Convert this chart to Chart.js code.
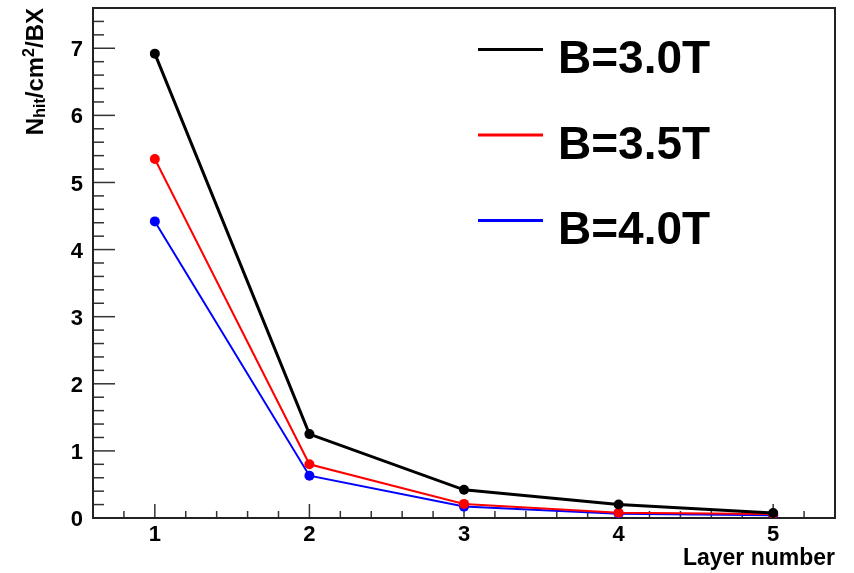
<!DOCTYPE html>
<html>
<head>
<meta charset="utf-8">
<script src="https://cdn.jsdelivr.net/npm/chart.js@4.4.0/dist/chart.umd.min.js"></script>
<style>
html, body { margin: 0; padding: 0; background: #fff; }
#wrap { width: 854px; height: 573px; }
</style>
</head>
<body>
<div id="wrap"><canvas id="grafica" width="854" height="573"></canvas></div>
<script>
// --- DATOS ---
const capas = [1, 2, 3, 4, 5];
const nombresSeries = ['B=3.0T', 'B=3.5T', 'B=4.0T'];
const hitsB30 = [6.92, 1.25, 0.42, 0.20, 0.075];
const hitsB35 = [5.35, 0.80, 0.21, 0.08, 0.06];
const hitsB40 = [4.42, 0.63, 0.17, 0.065, 0.04];
const etiquetasX = [1, 2, 3, 4, 5];
const etiquetasY = [0, 1, 2, 3, 4, 5, 6, 7];

const FUENTE = '"Liberation Sans", Arial, Helvetica, sans-serif';

function puntos(valores) {
    return capas.map((c, i) => ({ x: c, y: valores[i] }));
}

function esEtiqueta(lista, v) {
    return lista.some(t => Math.abs(t - v) < 1e-6);
}

// ================= marcas hacia dentro (estilo ROOT) + marco + números del eje Y =================
const marcasInternas = {
    id: 'marcasInternas',
    beforeDatasetsDraw(chart) {
        const { ctx, chartArea: a, scales } = chart;
        ctx.save();
        ctx.strokeStyle = '#333';
        ctx.lineWidth = 1.5;
        scales.x.ticks.forEach(t => {
            const px = scales.x.getPixelForValue(t.value);
            const largo = esEtiqueta(etiquetasX, t.value) ? 14 : 7;
            ctx.beginPath();
            ctx.moveTo(px, a.bottom);
            ctx.lineTo(px, a.bottom - largo);
            ctx.stroke();
        });
        scales.y.ticks.forEach(t => {
            const py = scales.y.getPixelForValue(t.value);
            const largo = esEtiqueta(etiquetasY, t.value) ? 22 : 11;
            ctx.beginPath();
            ctx.moveTo(a.left, py);
            ctx.lineTo(a.left + largo, py);
            ctx.stroke();
        });
        // marco
        ctx.strokeStyle = '#222';
        ctx.lineWidth = 2;
        ctx.strokeRect(a.left, a.top, a.right - a.left, a.bottom - a.top);

        // etiquetas del eje Y
        ctx.fillStyle = '#000';
        ctx.font = 'bold 22px ' + FUENTE;
        ctx.textAlign = 'right';
        ctx.textBaseline = 'middle';
        etiquetasY.forEach(v => {
            ctx.fillText(String(v), a.left - 10, scales.y.getPixelForValue(v) + 2);
        });
        ctx.restore();
    }
};

// ================= título del eje Y con sub/superíndices =================
const tituloY = {
    id: 'tituloY',
    afterDraw(chart) {
        const ctx = chart.ctx;
        const partes = [
            { t: 'N', size: 24, dy: 0 },
            { t: 'hit', size: 16, dy: 2 },
            { t: '/cm', size: 24, dy: 0 },
            { t: '2', size: 16, dy: -9 },
            { t: '/BX', size: 24, dy: 0 }
        ];
        ctx.save();
        ctx.fillStyle = '#000';
        ctx.textBaseline = 'alphabetic';
        let total = 0;
        partes.forEach(p => {
            ctx.font = 'bold ' + p.size + 'px ' + FUENTE;
            p.w = ctx.measureText(p.t).width;
            total += p.w;
        });
        ctx.translate(43, chart.chartArea.top);
        ctx.rotate(-Math.PI / 2);
        let x = -total;
        partes.forEach(p => {
            ctx.font = 'bold ' + p.size + 'px ' + FUENTE;
            ctx.fillText(p.t, x, p.dy);
            x += p.w;
        });
        ctx.restore();
    }
};

// ================= leyenda sin borde =================
const leyenda = {
    id: 'leyenda',
    afterDraw(chart) {
        const ctx = chart.ctx;
        const a = chart.chartArea;
        const x0 = a.left + 385, x1 = a.left + 450, xt = a.left + 465;
        const filas = [a.top + 41.5, a.top + 127, a.top + 212.5];
        ctx.save();
        chart.data.datasets.forEach((ds, i) => {
            const y = filas[i];
            ctx.strokeStyle = ds.borderColor;
            ctx.lineWidth = 3;
            ctx.beginPath();
            ctx.moveTo(x0, y);
            ctx.lineTo(x1, y);
            ctx.stroke();
            ctx.fillStyle = '#000';
            ctx.font = 'bold 46px ' + FUENTE;
            ctx.textBaseline = 'alphabetic';
            ctx.fillText(ds.label, xt, y + 23.5);
        });
        ctx.restore();
    }
};

// ================= GRÁFICA =================
const ctxGraf = document.getElementById('grafica').getContext('2d');

new Chart(ctxGraf, {
    type: 'line',
    data: {
        datasets: [
            { label: nombresSeries[0], data: puntos(hitsB30), borderColor: '#000000', backgroundColor: '#000000', borderWidth: 3, pointRadius: 5, pointBorderWidth: 0 },
            { label: nombresSeries[1], data: puntos(hitsB35), borderColor: '#ff0000', backgroundColor: '#ff0000', borderWidth: 2, pointRadius: 5, pointBorderWidth: 0 },
            { label: nombresSeries[2], data: puntos(hitsB40), borderColor: '#0000ff', backgroundColor: '#0000ff', borderWidth: 2, pointRadius: 5, pointBorderWidth: 0 }
        ]
    },
    options: {
        responsive: false,
        animation: false,
        layout: { padding: { left: 0, top: 8, right: 19, bottom: 0 } },
        plugins: { legend: { display: false }, tooltip: { enabled: false } },
        scales: {
            x: {
                type: 'linear', min: 0.6, max: 5.4,
                grid: { display: false, drawTicks: false },
                border: { display: false },
                ticks: {
                    stepSize: 0.2, autoSkip: false, maxRotation: 0, padding: 4, color: '#000',
                    font: { family: FUENTE, size: 22, weight: 'bold' },
                    callback: v => esEtiqueta(etiquetasX, v) ? String(Math.round(v)) : ''
                },
                title: {
                    display: true, text: 'Layer number', align: 'end', color: '#000',
                    font: { family: FUENTE, size: 23, weight: 'bold' },
                    padding: { top: 0, bottom: 1 }
                },
                afterFit(scale) { scale.height = 55; }
            },
            y: {
                min: 0, max: 7.6,
                grid: { display: false, drawTicks: false },
                border: { display: false },
                ticks: { stepSize: 0.2, display: false },
                afterFit(scale) { scale.width = 93; }
            }
        }
    },
    plugins: [marcasInternas, tituloY, leyenda]
});
</script>
</body>
</html>
